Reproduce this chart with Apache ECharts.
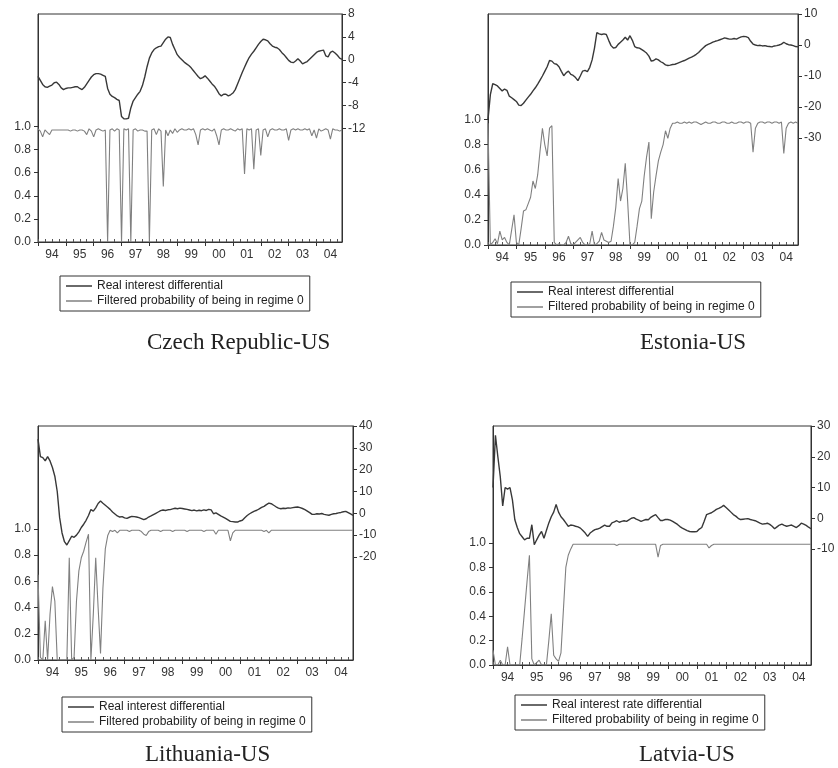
<!DOCTYPE html>
<html><head><meta charset="utf-8">
<script src="https://cdn.jsdelivr.net/npm/echarts@6/dist/echarts.min.js"></script>
<style>html,body{margin:0;padding:0;background:#fff}#c{width:838px;height:768px}</style>
</head><body><div id="c"></div>
<script>
const years = [1994,1995,1996,1997,1998,1999,2000,2001,2002,2003,2004];
const months = [];
years.forEach(function (y) { for (let m = 1; m <= 12; m++) months.push(y + '-' + (m < 10 ? '0' : '') + m); });

const probTicks = [0, 0.2, 0.4, 0.6, 0.8, 1.0];
const czechTicks = [-12, -8, -4, 0, 4, 8];
const estoniaTicks = [-30, -20, -10, 0, 10];
const lithTicks = [-20, -10, 0, 10, 20, 30, 40];
const latviaTicks = [-10, 0, 10, 20, 30];

const diffLabel = 'Real interest differential';
const diffLabelLv = 'Real interest rate differential';
const probLabel = 'Filtered probability of being in regime 0';
const titles = ['Czech Republic-US', 'Estonia-US', 'Lithuania-US', 'Latvia-US'];

const czechDiff = [
-2.9,-3.6,-4.3,-4.7,-4.8,-4.6,-4.4,-4.0,-3.9,-4.3,-4.9,-5.2,
-5.0,-4.9,-4.9,-4.8,-4.7,-4.7,-5.0,-5.2,-4.8,-4.2,-3.6,-3.0,
-2.6,-2.4,-2.4,-2.5,-2.7,-2.9,-5.0,-6.0,-6.4,-6.6,-6.9,-7.1,
-9.9,-10.3,-10.3,-10.2,-8.4,-7.2,-6.6,-6.0,-5.5,-4.5,-3.0,-1.2,
0.3,1.2,1.8,2.1,2.3,2.4,3.0,3.6,4.0,3.9,2.7,1.8,
0.9,0.4,0.0,-0.4,-0.7,-1.0,-1.4,-1.9,-2.4,-2.9,-3.3,-3.1,
-2.8,-3.2,-3.7,-4.2,-4.6,-5.2,-5.9,-6.3,-6.0,-6.0,-6.3,-6.1,
-5.8,-5.2,-4.2,-3.2,-2.2,-1.3,-0.4,0.4,1.0,1.5,2.1,2.7,
3.2,3.6,3.5,3.3,2.8,2.4,2.2,2.1,1.8,1.3,0.9,0.4,
-0.1,-0.4,-0.5,-0.2,0.2,-0.2,-0.7,-0.5,-0.3,0.1,0.5,0.9,
1.3,1.5,1.6,1.7,0.7,0.5,1.3,1.5,1.2,0.8,0.3,0.1];
const czechProb = [
0.98,0.96,0.91,0.97,0.95,0.93,0.97,0.97,0.97,0.97,0.97,0.97,
0.97,0.97,0.96,0.97,0.97,0.96,0.97,0.97,0.96,0.93,0.98,0.96,
0.91,0.97,0.98,0.97,0.96,0.97,0.00,0.97,0.98,0.96,0.98,0.97,
0.00,0.98,0.97,0.98,0.00,0.97,0.98,0.96,0.97,0.97,0.96,0.96,
0.00,0.97,0.98,0.93,0.98,0.96,0.48,0.97,0.92,0.97,0.94,0.98,
0.95,0.97,0.98,0.97,0.97,0.98,0.97,0.98,0.93,0.84,0.97,0.98,
0.97,0.98,0.97,0.96,0.98,0.92,0.84,0.97,0.98,0.97,0.97,0.98,
0.97,0.96,0.98,0.97,0.98,0.59,0.98,0.97,0.98,0.63,0.97,0.98,
0.75,0.97,0.98,0.91,0.97,0.98,0.97,0.97,0.98,0.97,0.97,0.98,
0.88,0.97,0.98,0.97,0.98,0.97,0.97,0.98,0.97,0.98,0.92,0.97,
0.90,0.98,0.96,0.97,0.98,0.97,0.89,0.98,0.97,0.97,0.96,0.97];

const estoniaDiff = [
-24,-16,-12.5,-12.8,-13.2,-14.0,-14.8,-14.2,-14.6,-16.5,-17.0,-17.6,
-18.2,-19.4,-19.5,-18.8,-17.8,-16.8,-15.9,-14.8,-13.8,-12.6,-11.3,-10.0,
-8.5,-7.0,-5.0,-5.2,-6.0,-6.2,-7.0,-8.5,-9.9,-9.0,-8.4,-9.5,
-9.8,-10.5,-11.5,-10.0,-8.4,-8.2,-8.6,-7.2,-4.8,-1.0,4.0,3.6,
3.4,3.6,3.4,1.5,-0.2,-1.0,-0.8,0.2,0.9,1.6,2.5,1.6,
3.0,1.5,-0.5,-0.9,-1.0,-1.5,-2.0,-2.6,-3.6,-5.2,-5.0,-4.5,
-4.8,-5.4,-5.8,-6.4,-6.6,-6.5,-6.3,-6.2,-5.9,-5.6,-5.3,-5.0,
-4.6,-4.2,-3.9,-3.5,-3.0,-2.4,-1.6,-0.9,-0.2,0.2,0.5,0.9,
1.2,1.4,1.7,2.0,2.3,2.1,1.9,1.9,2.1,1.9,2.3,2.6,
2.8,2.7,2.4,1.2,0.3,0.0,-0.2,-0.1,-0.3,-0.2,-0.4,-0.5,
-0.6,-0.3,-0.2,0.0,0.3,0.9,0.4,0.1,0.0,-0.2,-0.5,-0.6];
const estoniaProb = [
0.97,0.00,0.02,0.05,0.01,0.11,0.04,0.06,0.02,0.00,0.12,0.24,
0.02,0.00,0.13,0.27,0.28,0.33,0.38,0.51,0.45,0.56,0.75,0.93,
0.80,0.71,0.93,0.95,0.02,0.00,0.01,0.00,0.00,0.02,0.07,0.01,
0.00,0.02,0.04,0.06,0.02,0.00,0.00,0.01,0.11,0.00,0.01,0.03,
0.10,0.04,0.03,0.02,0.03,0.15,0.30,0.53,0.35,0.45,0.65,0.35,
0.00,0.00,0.02,0.15,0.29,0.35,0.55,0.70,0.82,0.21,0.42,0.55,
0.67,0.74,0.80,0.91,0.85,0.93,0.97,0.97,0.98,0.97,0.97,0.98,
0.97,0.98,0.97,0.98,0.98,0.97,0.96,0.97,0.98,0.97,0.97,0.98,
0.98,0.97,0.97,0.98,0.98,0.97,0.97,0.98,0.97,0.97,0.98,0.98,
0.97,0.98,0.98,0.97,0.74,0.93,0.97,0.98,0.98,0.97,0.98,0.98,
0.97,0.98,0.98,0.97,0.98,0.73,0.93,0.97,0.98,0.97,0.98,0.97];

const lithDiff = [
34,26,25.5,24,26,24,21,17,10,-2,-9,-13,
-14.5,-12.5,-10.5,-11,-10,-8.5,-6.5,-5,-3.2,-1,1.7,1.0,
2.5,4.5,5.6,4.6,3.7,2.8,1.8,0.6,-0.3,-1.2,-1.7,-1.5,
-2.1,-2.3,-1.8,-1.4,-1.5,-1.7,-2.0,-2.4,-2.9,-2.5,-1.7,-1.2,
-0.6,0.0,0.6,1.2,1.5,1.3,1.6,1.7,2.0,2.3,2.1,2.4,
2.2,2.0,1.8,1.5,1.2,1.5,1.1,1.4,1.2,1.6,1.3,1.8,
1.6,-0.2,0.2,-0.5,-1.2,-1.7,-2.3,-3.0,-3.7,-3.8,-4.0,-4.0,
-3.5,-3.2,-2.0,-1.0,-0.2,0.4,1.0,1.4,2.0,2.7,3.2,4.0,
4.7,4.4,3.7,3.0,2.4,2.1,2.3,2.2,2.5,2.4,2.6,2.8,
2.9,2.6,2.2,1.7,1.0,0.3,-0.5,-0.5,-0.2,-0.3,-0.1,-0.5,
-0.7,-0.9,-0.5,-0.2,-0.1,0.2,0.4,0.7,0.9,0.3,-0.3,-0.9];
const lithProb = [
0.65,0.02,0.00,0.30,0.00,0.35,0.56,0.45,0.00,0.00,0.00,0.00,
0.00,0.78,0.00,0.02,0.45,0.68,0.78,0.83,0.90,0.96,0.00,0.35,
0.78,0.40,0.05,0.55,0.85,0.95,0.99,0.98,0.99,0.97,0.99,0.99,
0.99,0.99,0.98,0.99,0.99,0.99,0.99,0.98,0.96,0.95,0.98,0.99,
0.99,0.99,0.99,0.98,0.99,0.99,0.99,0.99,0.98,0.99,0.99,0.99,
0.99,0.99,0.98,0.99,0.99,0.99,0.99,0.99,0.99,0.98,0.99,0.99,
0.99,0.99,0.96,0.99,0.99,0.99,0.99,0.99,0.91,0.97,0.99,0.99,
0.99,0.99,0.99,0.99,0.99,0.99,0.99,0.99,0.99,0.99,0.98,0.99,
0.97,0.99,0.99,0.99,0.99,0.99,0.99,0.99,0.99,0.99,0.99,0.99,
0.99,0.99,0.99,0.99,0.99,0.99,0.99,0.99,0.99,0.99,0.99,0.99,
0.99,0.99,0.99,0.99,0.99,0.99,0.99,0.99,0.99,0.99,0.99,0.99];

const latviaDiff = [
10,27,20,13.5,4,10,9.5,10,6,-0.5,-3,-5,
-6,-7,-6.5,-6.5,-2.1,-8.6,-7,-5.5,-4.3,-6.5,-4,-1.5,
0.5,2.0,4.5,2.0,0.5,-0.4,-1.5,-2.6,-2.2,-2.3,-2.6,-2.8,
-3.2,-4.0,-4.8,-5.9,-4.8,-4.2,-3.7,-3.5,-3.2,-2.7,-2.2,-2.6,
-2.6,-1.5,-1.2,-0.8,-1.3,-1.0,-0.8,-1.0,-0.5,0.0,0.2,-0.3,
-0.6,-1.0,-0.7,-0.4,-0.5,0.3,0.8,1.2,0.2,-0.7,-0.7,-0.4,
-0.4,-0.6,-1.0,-1.5,-2.0,-2.7,-3.2,-3.6,-4.0,-4.3,-4.4,-4.4,
-4.3,-3.5,-3.0,-1.0,1.2,1.5,1.8,2.3,2.9,3.2,3.6,4.2,
3.5,2.8,2.0,1.2,0.7,0.0,-0.4,-0.3,-0.2,-0.1,-0.4,-0.6,
-0.8,-1.2,-1.6,-1.9,-1.8,-1.6,-2.0,-2.6,-3.4,-2.8,-2.2,-1.9,
-2.3,-2.6,-2.4,-2.2,-2.6,-3.0,-2.4,-1.6,-1.9,-2.3,-2.9,-3.4];
const latviaProb = [
0.12,0.00,0.00,0.04,0.00,0.00,0.15,0.00,0.00,0.00,0.00,0.00,
0.22,0.45,0.68,0.90,0.05,0.00,0.02,0.04,0.00,0.00,0.00,0.20,
0.42,0.08,0.05,0.03,0.10,0.45,0.80,0.90,0.95,0.99,0.99,0.99,
0.99,0.99,0.99,0.99,0.99,0.99,0.99,0.99,0.99,0.99,0.99,0.99,
0.99,0.99,0.99,0.98,0.99,0.99,0.99,0.99,0.99,0.99,0.99,0.99,
0.99,0.99,0.99,0.99,0.99,0.99,0.99,0.99,0.885,0.98,0.99,0.99,
0.99,0.99,0.99,0.99,0.99,0.99,0.99,0.99,0.99,0.99,0.99,0.99,
0.99,0.99,0.99,0.99,0.99,0.96,0.98,0.99,0.99,0.99,0.99,0.99,
0.99,0.99,0.99,0.99,0.99,0.99,0.99,0.99,0.99,0.99,0.99,0.99,
0.99,0.99,0.99,0.99,0.99,0.99,0.99,0.99,0.99,0.99,0.99,0.99,
0.99,0.99,0.99,0.99,0.99,0.99,0.99,0.99,0.99,0.99,0.99,0.99];

const panels = [
  {diff: czechDiff, prob: czechProb, diffName: diffLabel, rTicks: czechTicks, rMin: -31.8, rMax: 8, lMax: 1.974,
   grid: {left: 38, top: 14, width: 304, height: 228}, legend: {left: 60, top: 276}, title: {left: 142, top: 326}},
  {diff: estoniaDiff, prob: estoniaProb, diffName: diffLabel, rTicks: estoniaTicks, rMin: -64.5, rMax: 10, lMax: 1.84,
   grid: {left: 488, top: 14, width: 310, height: 231}, legend: {left: 511, top: 282}, title: {left: 635, top: 326}},
  {diff: lithDiff, prob: lithProb, diffName: diffLabel, rTicks: lithTicks, rMin: -67.2, rMax: 40, lMax: 1.786,
   grid: {left: 38, top: 426, width: 315, height: 234}, legend: {left: 62, top: 697}, title: {left: 140, top: 738}},
  {diff: latviaDiff, prob: latviaProb, diffName: diffLabelLv, rTicks: latviaTicks, rMin: -47.7, rMax: 30, lMax: 1.96,
   grid: {left: 493, top: 426, width: 318, height: 239}, legend: {left: 515, top: 695}, title: {left: 634, top: 738}}
];

const axisColor = '#333';
const labelFont = {fontFamily: 'Liberation Sans, Arial, sans-serif', fontSize: 12, color: '#333'};
const diffColor = '#383838';
const probColor = '#808080';

const option = {
  animation: false,
  backgroundColor: '#fff',
  title: [], grid: [], xAxis: [], yAxis: [], series: [], legend: []
};

panels.forEach(function (p, i) {
  option.grid.push(Object.assign({show: true, borderColor: axisColor, borderWidth: 1, backgroundColor: 'transparent'}, p.grid));
  option.title.push({text: titles[i], left: p.title.left, top: p.title.top,
    textStyle: {fontFamily: 'Liberation Serif, Times New Roman, serif', fontSize: 23, fontWeight: 'normal', color: '#222'}});
  option.xAxis.push({
    type: 'category', gridIndex: i, data: months, boundaryGap: false, position: 'bottom',
    axisLine: {show: true, onZero: false, lineStyle: {color: axisColor}},
    axisTick: {show: true, length: 4, interval: function (idx) { return idx % 12 === 0; }, lineStyle: {color: axisColor}},
    axisLabel: Object.assign({interval: function (idx) { return idx % 12 === 6; }, margin: 7,
      formatter: function (v) { return v.slice(2, 4); }}, labelFont),
    splitLine: {show: false}
  });
  option.xAxis.push({
    type: 'category', gridIndex: i, data: months, boundaryGap: false, position: 'bottom',
    axisLine: {show: false, onZero: false},
    axisTick: {show: true, inside: true, length: 3, interval: function (idx) { return idx % 3 === 0; }, lineStyle: {color: '#555'}},
    axisLabel: {show: false}, splitLine: {show: false}
  });
  option.yAxis.push({
    type: 'value', gridIndex: i, position: 'left', min: 0, max: p.lMax,
    axisLine: {show: true, onZero: false, lineStyle: {color: axisColor}},
    axisTick: {show: true, length: 4, customValues: probTicks, lineStyle: {color: axisColor}},
    axisLabel: Object.assign({customValues: probTicks, margin: 7, formatter: function (v) { return v.toFixed(1); }}, labelFont),
    splitLine: {show: false}
  });
  option.yAxis.push({
    type: 'value', gridIndex: i, position: 'right', min: p.rMin, max: p.rMax,
    axisLine: {show: true, onZero: false, lineStyle: {color: axisColor}},
    axisTick: {show: true, length: 4, customValues: p.rTicks, lineStyle: {color: axisColor}},
    axisLabel: Object.assign({customValues: p.rTicks, margin: 6}, labelFont),
    splitLine: {show: false}
  });
  option.series.push({
    name: probLabel, type: 'line', xAxisIndex: 2 * i, yAxisIndex: 2 * i, data: p.prob,
    symbol: 'none', itemStyle: {color: probColor}, lineStyle: {color: probColor, width: 1.1}, z: 2
  });
  option.series.push({
    name: p.diffName, type: 'line', xAxisIndex: 2 * i, yAxisIndex: 2 * i + 1, data: p.diff,
    symbol: 'none', itemStyle: {color: diffColor}, lineStyle: {color: diffColor, width: 1.4}, z: 3
  });
  option.legend.push({
    data: [p.diffName, probLabel], left: p.legend.left, top: p.legend.top, orient: 'vertical',
    icon: 'rect', itemWidth: 26, itemHeight: 1.5, itemGap: 3, selectedMode: false,
    borderColor: axisColor, borderWidth: 1, borderRadius: 0, padding: [4, 6, 4, 6],
    textStyle: {fontFamily: 'Liberation Sans, Arial, sans-serif', fontSize: 12, color: '#222'}
  });
});

const chart = echarts.init(document.getElementById('c'), null, {renderer: 'canvas'});
chart.setOption(option);
</script>
</body></html>
